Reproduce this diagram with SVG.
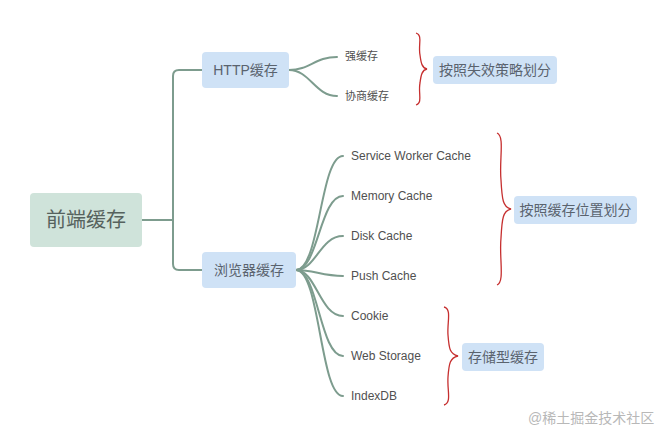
<svg xmlns="http://www.w3.org/2000/svg" width="668" height="440" viewBox="0 0 668 440">
<style>
.root{fill:#cfe3da}
.node{fill:#cfe2f6}
.t{font-family:"Liberation Sans","Noto Sans CJK SC",sans-serif;fill:#4a4f55}
.rt{font-size:20px;fill:#56625d}
.nt{font-size:14px;fill:#5a636e}
.lt{font-size:12px;fill:#505050}
.ct{font-size:11px;fill:#505050}
.conn path{fill:none;stroke:#7d9c8e;stroke-width:2;stroke-linecap:round}
.brace{fill:none;stroke:#c62f2f;stroke-width:1.3}
</style>
<rect width="668" height="440" fill="#fff"/>
<g class="conn" id="connectors">
<path d="M142 220 H173"/>
<path d="M202 70 H179 Q173 70 173 76 V264 Q173 270 179 270 H202"/>
<path d="M289 70 C310 70 315 57 337 57"/>
<path d="M289 70 C310 70 315 96 337 96"/>
<path d="M296 270 C320 270 320 156 343 156"/>
<path d="M296 270 C318 270 320 196 343 196"/>
<path d="M296 270 C316 270 320 236 343 236"/>
<path d="M296 270 C314 270 322 276 343 276"/>
<path d="M296 270 C316 270 320 316 343 316"/>
<path d="M296 270 C318 270 320 356 343 356"/>
<path d="M296 270 C320 270 320 396 343 396"/>
</g>
<g id="root"><rect class="root" x="30" y="193" width="112" height="54" rx="4"/><text class="t rt" x="86" y="227" text-anchor="middle">前端缓存</text></g>
<g id="http"><rect class="node" x="202" y="52" width="87" height="36" rx="4"/><text class="t nt" x="245.5" y="75" text-anchor="middle">HTTP缓存</text></g>
<g id="browser"><rect class="node" x="202" y="252" width="94" height="36" rx="4"/><text class="t nt" x="249" y="275" text-anchor="middle">浏览器缓存</text></g>
<g id="strong"><text class="t ct" x="345" y="60">强缓存</text></g>
<g id="negotiate"><text class="t ct" x="345" y="100">协商缓存</text></g>
<g id="sw"><text class="t lt" x="351" y="160">Service Worker Cache</text></g>
<g id="mem"><text class="t lt" x="351" y="200">Memory Cache</text></g>
<g id="disk"><text class="t lt" x="351" y="240">Disk Cache</text></g>
<g id="push"><text class="t lt" x="351" y="280">Push Cache</text></g>
<g id="cookie"><text class="t lt" x="351" y="320">Cookie</text></g>
<g id="webstorage"><text class="t lt" x="351" y="360">Web Storage</text></g>
<g id="indexdb"><text class="t lt" x="351" y="400">IndexDB</text></g>
<g id="brace1"><path class="brace" d="M416 33 C423 35 418 45 420 55 C421 63 422 68 427 69 C422 70 421 75 420 83 C418 93 423 103 416 105"/></g>
<g id="brace2"><path class="brace" d="M497 133 C505 136 499 160 501 180 C502 200 503 207 511 209 C503 211 502 218 501 238 C499 258 505 282 497 285"/></g>
<g id="brace3"><path class="brace" d="M444 307 C452 309 447 322 448 335 C449 349 450 354 458 356 C450 358 449 363 448 377 C447 390 452 403 444 405"/></g>
<g id="sum1"><rect class="node" x="433" y="56" width="124" height="28" rx="4"/><text class="t nt" x="495" y="75" text-anchor="middle">按照失效策略划分</text></g>
<g id="sum2"><rect class="node" x="514" y="196" width="123" height="28" rx="4"/><text class="t nt" x="575.5" y="215" text-anchor="middle">按照缓存位置划分</text></g>
<g id="sum3"><rect class="node" x="462" y="343" width="82" height="28" rx="4"/><text class="t nt" x="503" y="362" text-anchor="middle">存储型缓存</text></g>
<text class="t" x="528" y="423" font-size="14" style="fill:#b8b8b8">@稀土掘金技术社区</text>
</svg>
